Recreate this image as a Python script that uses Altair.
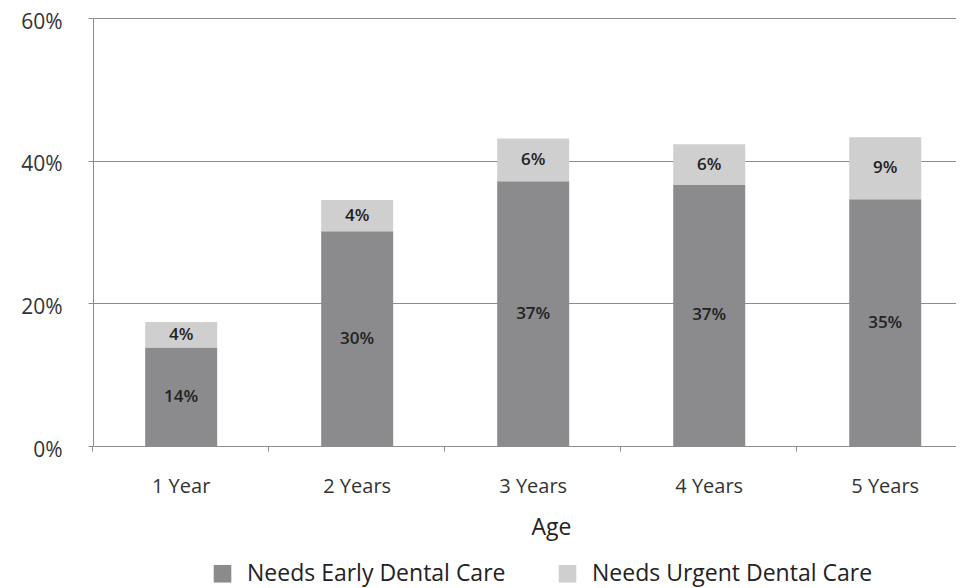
import altair as alt
import pandas as pd

ages = ["1 Year", "2 Years", "3 Years", "4 Years", "5 Years"]
series = ["Needs Early Dental Care", "Needs Urgent Dental Care"]
early = [13.8, 30.1, 37.1, 36.6, 34.6]
urgent = [3.6, 4.4, 6.0, 5.7, 8.7]
colors = ["#8b8b8d", "#cfcfcf"]
y_ticks = [0, 20, 40, 60]

rows = []
for a, e, u in zip(ages, early, urgent):
    rows.append({"age": a, "series": series[0], "value": e, "order": 0})
    rows.append({"age": a, "series": series[1], "value": u, "order": 1})
df = pd.DataFrame(rows)

FONT = "Open Sans"
GRAY = "#8c8c8c"

x_enc = alt.X(
    "age:N",
    sort=ages,
    scale=alt.Scale(paddingInner=0.591, paddingOuter=0.247, align=0.6),
    axis=alt.Axis(
        title="Age", labelAngle=0, bandPosition=-0.736, labelFontSize=20,
        labelPadding=25, titleFontSize=23, titlePadding=20, titleFontWeight="normal",
        titleX=458, titleAlign="center",
        domainColor=GRAY, tickColor=GRAY, tickSize=5, labelColor="#333333",
        titleColor="#222222", grid=False,
    ),
)

bars = alt.Chart(df).mark_bar().encode(
    x=x_enc,
    y=alt.Y(
        "value:Q",
        stack="zero",
        scale=alt.Scale(domain=[0, 60]),
        axis=alt.Axis(
            title=None, values=y_ticks, labelExpr="datum.value + '%'",
            labelFontSize=21, labelPadding=26, labelOffset=4, domainColor=GRAY,
            tickColor=GRAY, tickSize=5, gridColor=GRAY, gridWidth=1,
            labelColor="#333333",
        ),
    ),
    color=alt.Color(
        "series:N",
        scale=alt.Scale(domain=series, range=colors),
        legend=alt.Legend(
            title=None, orient="none", legendX=118, legendY=544,
            direction="horizontal", symbolType="square",
            symbolSize=310, symbolStrokeWidth=0, labelFontSize=23, columnPadding=50,
            labelColor="#222222", labelLimit=0, symbolOpacity=1, labelOffset=13,
        ),
    ),
    order=alt.Order("order:Q"),
)

labels = (
    alt.Chart(df)
    .transform_stack(stack="value", groupby=["age"], as_=["v0", "v1"],
                     sort=[alt.SortField("order")])
    .transform_calculate(mid="(datum.v0 + datum.v1) / 2",
                         lab="format(datum.value, '.0f') + '%'")
    .mark_text(fontSize=17, fontWeight=600, color="#222222", font=FONT)
    .encode(x=alt.X("age:N", sort=ages), y=alt.Y("mid:Q"), text="lab:N")
)

chart = (
    alt.layer(bars, labels)
    .properties(
        width=863, height=428,
        autosize=alt.AutoSizeParams(type="none"),
        padding={"left": 85, "top": 10, "right": 0, "bottom": 142},
    )
    .configure(font=FONT)
    .configure_view(stroke=None)
)

chart.save("out.html", embed_options={"renderer": "svg", "actions": False})
